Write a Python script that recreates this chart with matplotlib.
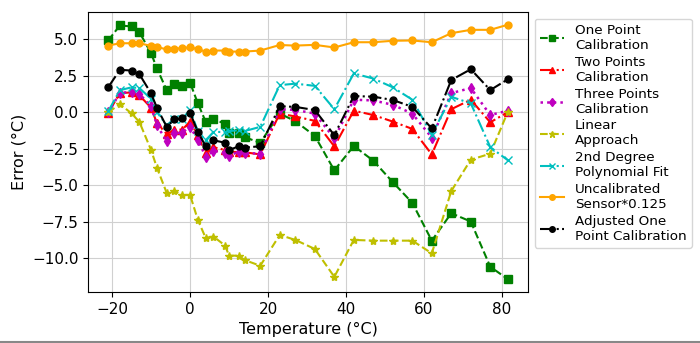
import matplotlib
matplotlib.use("Agg")
import matplotlib.pyplot as plt
from matplotlib.lines import Line2D

temps = [-21, -18, -15, -13, -10, -8.5, -6, -4, -2, 0, 2, 4, 6, 9, 10, 12.5, 14, 18,
         23, 27, 32, 37, 42, 47, 52, 57, 62, 67, 72, 77, 81.5]

one_point = [4.91, 5.94, 5.87, 5.48, 4.04, 3.0, 1.51, 1.9, 1.79, 2.02, 0.6, -0.65, -0.45, -0.82, -1.4,
             -1.42, -1.72, -2.1, -0.1, -0.62, -1.63, -3.99, -2.32, -3.33, -4.8, -6.22, -8.81,
             -6.93, -7.5, -10.6, -11.45]
two_points = [-0.05, 1.3, 1.35, 1.15, 0.3, -0.75, -1.5, -1.2, -1.2, -0.65, -1.6, -2.8, -2.4, -2.6,
              -2.7, -2.75, -2.75, -2.9, -0.1, -0.3, -0.6, -2.35, 0.1, -0.2, -0.65, -1.15, -2.9,
              0.2, 0.85, -0.7, 0.0]
three_points = [-0.02, 1.3, 1.4, 1.25, 0.4, -0.9, -2.0, -1.45, -1.4, -1.0, -1.9, -3.05, -2.65, -2.8,
                -3.0, -2.7, -2.8, -2.85, 0.2, 0.15, -0.1, -1.8, 0.85, 0.8, 0.5, -0.1, -1.75,
                1.3, 1.65, -0.2, 0.1]
linear = [-0.02, 0.55, -0.09, -0.67, -2.6, -3.81, -5.53, -5.41, -5.71, -5.67, -7.39, -8.62, -8.53,
          -9.15, -9.84, -9.84, -10.14, -10.53, -8.42, -8.76, -9.38, -11.29, -8.76, -8.81, -8.81,
          -8.81, -9.68, -5.41, -3.26, -2.85, 0.02]
poly2 = [0.05, 1.5, 1.7, 1.65, 0.9, 0.0, -0.9, -0.45, -0.45, 0.15, -1.3, -1.93, -1.36, -1.36, -1.3,
         -1.24, -1.3, -1.01, 1.85, 1.95, 1.8, 0.2, 2.65, 2.3, 1.7, 0.85, -1.55, 1.05, 0.6,
         -2.4, -3.3]
uncal = [4.56, 4.72, 4.72, 4.72, 4.54, 4.45, 4.31, 4.35, 4.38, 4.45, 4.31, 4.15, 4.22, 4.22, 4.15,
         4.15, 4.15, 4.22, 4.6, 4.56, 4.61, 4.43, 4.79, 4.79, 4.89, 4.91, 4.79, 5.41, 5.64,
         5.64, 5.99]
adjusted = [1.7, 2.9, 2.85, 2.6, 1.28, 0.3, -1.0, -0.5, -0.43, -0.05, -1.35, -2.34, -1.93, -2.1,
            -2.6, -2.34, -2.43, -2.34, 0.4, 0.36, 0.14, -1.58, 1.1, 1.06, 0.83, 0.36, -1.12,
            2.2, 2.94, 1.51, 2.25]

labels = ["One Point\nCalibration", "Two Points\nCalibration", "Three Points\nCalibration",
          "Linear\nApproach", "2nd Degree\nPolynomial Fit", "Uncalibrated\nSensor*0.125",
          "Adjusted One\nPoint Calibration"]

fig = plt.figure(figsize=(7.0, 3.43), dpi=100)
ax = fig.add_axes([0.126, 0.149, 0.628, 0.816])

ax.plot(temps, one_point, color="green", ls="--", marker="s", ms=5.5, label=labels[0])
ax.plot(temps, two_points, color="red", ls="-.", marker="^", ms=5.5, label=labels[1])
ax.plot(temps, three_points, color="m", ls=":", lw=1.8, marker="d", ms=5.5, label=labels[2])
ax.plot(temps, linear, color="y", ls="--", marker="*", ms=6, label=labels[3])
ax.plot(temps, poly2, color="c", ls="-.", marker="x", ms=5.5, label=labels[4])
ax.plot(temps, uncal, color="orange", ls="-", marker="o", ms=5, label=labels[5])
ax.plot(temps, adjusted, color="black", ls="-.", marker="o", ms=5, label=labels[6])

ax.grid(True, color="#d0d0d0", lw=0.8)
ax.set_xticks([-20, 0, 20, 40, 60, 80])
ax.set_yticks([-10, -7.5, -5, -2.5, 0, 2.5, 5])
ax.tick_params(labelsize=11)
ax.set_xlabel("Temperature (°C)", fontsize=11.5)
ax.set_ylabel("Error (°C)", fontsize=11.5)

ax.legend(loc="upper left", bbox_to_anchor=(1.0, 1.0), fontsize=9.7,
          handlelength=1.8, labelspacing=0.28, handletextpad=0.8, markerscale=0.8,
          borderaxespad=0.5)

fig.add_artist(Line2D([0, 1], [0.004, 0.004], transform=fig.transFigure,
                      color="#888888", lw=1.5))

fig.savefig("out.png", dpi=100)
